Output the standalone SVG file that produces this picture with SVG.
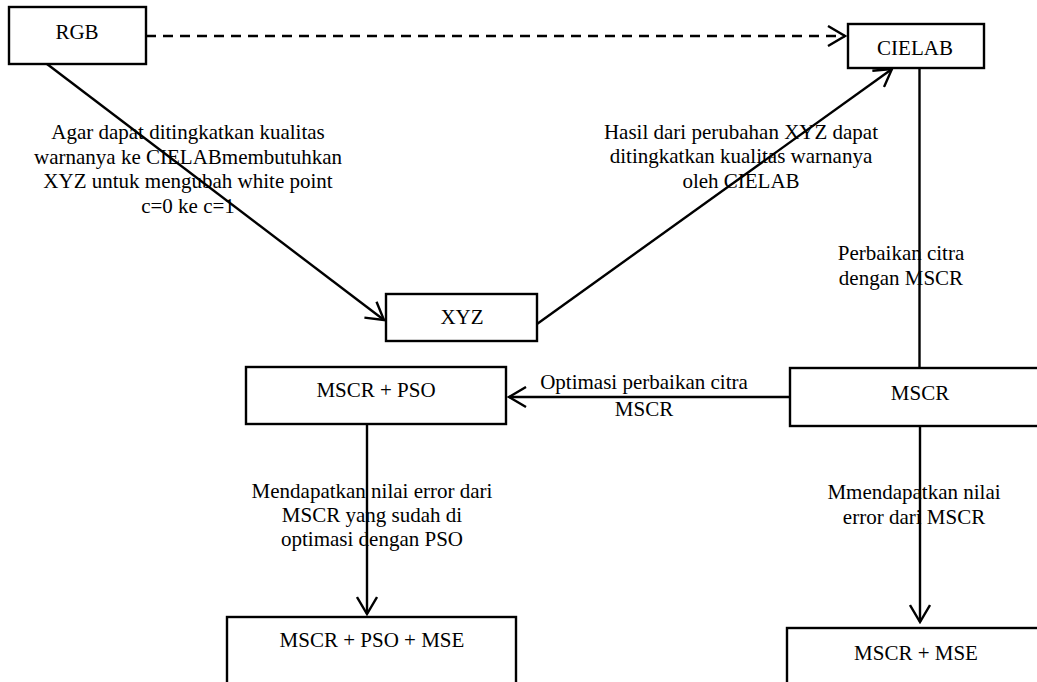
<svg xmlns="http://www.w3.org/2000/svg" width="1037" height="682" viewBox="0 0 1037 682">
<style>
.box{fill:#fff;stroke:#000;stroke-width:2.4}
.ln{fill:none;stroke:#000;stroke-width:2.4}
text{font-family:'Liberation Serif','Times New Roman',Tinos,'DejaVu Serif',serif;font-size:21px;fill:#000;text-anchor:middle}
</style>
<defs>
<marker id="arr" viewBox="0 0 20 22" refX="18" refY="11" markerWidth="20" markerHeight="22" markerUnits="userSpaceOnUse" orient="auto">
<path d="M1,1 L18,11 L1,21" fill="none" stroke="#000" stroke-width="2.4"/>
</marker>
</defs>
<rect width="1037" height="682" fill="#fff"/>
<g id="connectors">
<line class="ln" x1="146" y1="36" x2="845" y2="36" stroke-dasharray="10 7" marker-end="url(#arr)"/>
<line class="ln" x1="47" y1="64" x2="384" y2="320" marker-end="url(#arr)"/>
<line class="ln" x1="537" y1="324" x2="892" y2="69" marker-end="url(#arr)"/>
<line class="ln" x1="919.5" y1="68" x2="919.5" y2="368"/>
<line class="ln" x1="790" y1="397" x2="509" y2="397" marker-end="url(#arr)"/>
<line class="ln" x1="367" y1="424" x2="367" y2="614" marker-end="url(#arr)"/>
<line class="ln" x1="920" y1="426" x2="920" y2="622" marker-end="url(#arr)"/>
</g>
<g id="labels" font-family="Liberation Serif, serif">
<text x="188" y="139">Agar dapat ditingkatkan kualitas</text>
<text x="188" y="164">warnanya ke CIELABmembutuhkan</text>
<text x="188" y="188">XYZ untuk mengubah white point</text>
<text x="188" y="213">c=0 ke c=1</text>
<text x="741" y="139">Hasil dari perubahan XYZ dapat</text>
<text x="741" y="163">ditingkatkan kualitas warnanya</text>
<text x="741" y="188">oleh CIELAB</text>
<text x="901" y="260">Perbaikan citra</text>
<text x="901" y="285">dengan MSCR</text>
<text x="644" y="389">Optimasi perbaikan citra</text>
<text x="644" y="416">MSCR</text>
<text x="372" y="498">Mendapatkan nilai error dari</text>
<text x="372" y="522">MSCR yang sudah di</text>
<text x="372" y="546">optimasi dengan PSO</text>
<text x="914" y="499">Mmendapatkan nilai</text>
<text x="914" y="524">error dari MSCR</text>
</g>
<g id="node-rgb">
<rect class="box" x="9" y="7" width="137" height="57"/>
<text x="77" y="39">RGB</text>
</g>
<g id="node-cielab">
<rect class="box" x="848" y="24" width="136" height="44"/>
<text x="915" y="55">CIELAB</text>
</g>
<g id="node-xyz">
<rect class="box" x="386" y="294" width="151" height="47"/>
<text x="462" y="324">XYZ</text>
</g>
<g id="node-mscr-pso">
<rect class="box" x="246" y="367" width="260" height="57"/>
<text x="376" y="397">MSCR + PSO</text>
</g>
<g id="node-mscr">
<rect class="box" x="790" y="368" width="260" height="58"/>
<text x="920" y="400">MSCR</text>
</g>
<g id="node-mscr-pso-mse">
<rect class="box" x="227" y="617" width="289" height="75"/>
<text x="372" y="647">MSCR + PSO + MSE</text>
</g>
<g id="node-mscr-mse">
<rect class="box" x="787" y="628" width="270" height="75"/>
<text x="916" y="660">MSCR + MSE</text>
</g>
</svg>
